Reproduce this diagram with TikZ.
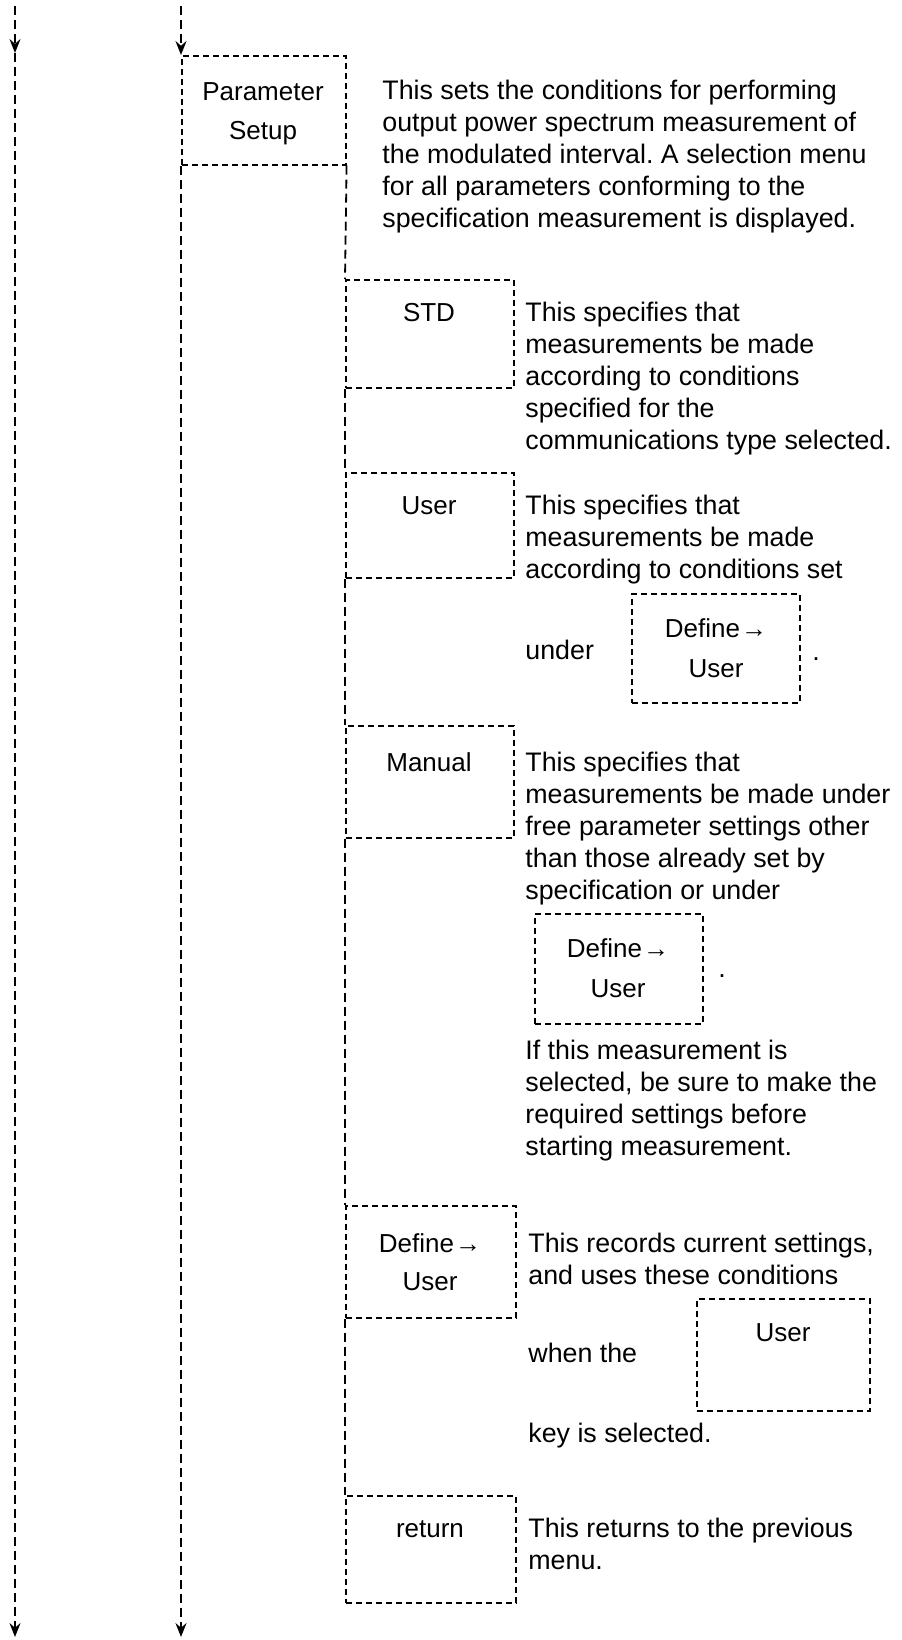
\documentclass[tikz,border=0pt]{standalone}
\usepackage{fontspec}
\setmainfont{Liberation Sans}
\usetikzlibrary{arrows.meta}
\newcommand\desctext[1]{\begin{tabular}[t]{@{}l@{}}#1\end{tabular}}
\frenchspacing
\begin{document}
\begin{tikzpicture}[x=0.5pt,y=-0.5pt,
  dline/.style={line width=0.9pt, dash pattern=on 4.5pt off 2.5pt},
  keybox/.style={draw, line width=0.8pt, dash pattern=on 3pt off 2pt, anchor=north west, inner sep=0pt},
  lbl/.style={font=\fontsize{13}{19}\selectfont, anchor=base, inner sep=0pt},
  desc/.style={font=\fontsize{13.4}{16}\selectfont, anchor=base west, inner sep=0pt},
  tip/.style={-{Stealth[length=7pt,width=5.5pt,inset=2.4pt]}}
]
\useasboundingbox (0,0) rectangle (901,1640);

% boxes
\node[keybox, minimum width=82pt, minimum height=54.5pt] (param) at (181,55) {};
\node[keybox, minimum width=84pt, minimum height=54pt] (std) at (345,279) {};
\node[keybox, minimum width=84pt, minimum height=52.5pt] (user) at (345,472) {};
\node[keybox, minimum width=84pt, minimum height=54.5pt] (inA) at (631,593) {};
\node[keybox, minimum width=84pt, minimum height=56pt] (manual) at (345,725) {};
\node[keybox, minimum width=84pt, minimum height=55pt] (inB) at (534,913) {};
\node[keybox, minimum width=85pt, minimum height=56pt] (defu) at (345,1205) {};
\node[keybox, minimum width=86.5pt, minimum height=56pt] (inC) at (696,1298) {};
\node[keybox, minimum width=85pt, minimum height=53.5pt] (ret) at (345,1495) {};

% box labels
\node[lbl] (paramA) at (263,100) {Parameter};
\node[lbl] (paramB) at (263,139) {Setup};
\node[lbl] (stdL) at (429,321) {STD};
\node[lbl] (userL) at (429,514) {User};
\node[lbl] (inAa) at (716,637) {Define\kern0.5pt→};
\node[lbl] (inAb) at (716,677) {User};
\node[lbl] (manualL) at (429,771) {Manual};
\node[lbl] (inBa) at (618,957) {Define\kern0.5pt→};
\node[lbl] (inBb) at (618,997) {User};
\node[lbl] (defuA) at (430,1252) {Define\kern0.5pt→};
\node[lbl] (defuB) at (430,1290) {User};
\node[lbl] (inCL) at (783,1341) {User};
\node[lbl] (retL) at (430,1537) {return};

% descriptions
\node[desc] (dParam) at (382,99) {\desctext{This sets the conditions for performing\\
output power spectrum measurement of\\
the modulated interval. A selection menu\\
for all parameters conforming to the\\
specification measurement is displayed.}};
\node[desc] (dStd) at (525,321) {\desctext{This specifies that\\
measurements be made\\
according to conditions\\
specified for the\\
communications type selected.}};
\node[desc] (dUser) at (525,514) {\desctext{This specifies that\\
measurements be made\\
according to conditions set}};
\node[desc] (dUnder) at (525,659) {under};
\node[desc] (dotA) at (812,660) {.};
\node[desc] (dManual) at (525,771) {\desctext{This specifies that\\
measurements be made under\\
free parameter settings other\\
than those already set by\\
specification or under}};
\node[desc] (dotB) at (718,977) {.};
\node[desc] (dIf) at (525,1059) {\desctext{If this measurement is\\
selected, be sure to make the\\
required settings before\\
starting measurement.}};
\node[desc] (dDefu) at (528,1252) {\desctext{This records current settings,\\
and uses these conditions}};
\node[desc] (dWhen) at (528,1362) {when the};
\node[desc] (dKey) at (528,1442) {key is selected.};
\node[desc] (dRet) at (528,1537) {\desctext{This returns to the previous\\
menu.}};

% flow lines
\coordinate (a1) at (15,6);
\coordinate (a2) at (15,53);
\coordinate (a3) at (15,1637);
\coordinate (b1) at (181,6);
\coordinate (b3) at (181,1637);
\draw[dline, tip] (a1) -- (a2);
\draw[dline, tip] (a2) -- (a3);
\draw[dline, tip] (b1) -- (param.north west);
\draw[dline, tip] (param.south west) -- (b3);

% menu column
\draw[dline] (param.south east) -- (std.north west);
\draw[dline] (std.south west) -- (user.north west);
\draw[dline] (user.south west) -- (manual.north west);
\draw[dline] (manual.south west) -- (defu.north west);
\draw[dline] (defu.south west) -- (ret.north west);
\end{tikzpicture}
\end{document}
